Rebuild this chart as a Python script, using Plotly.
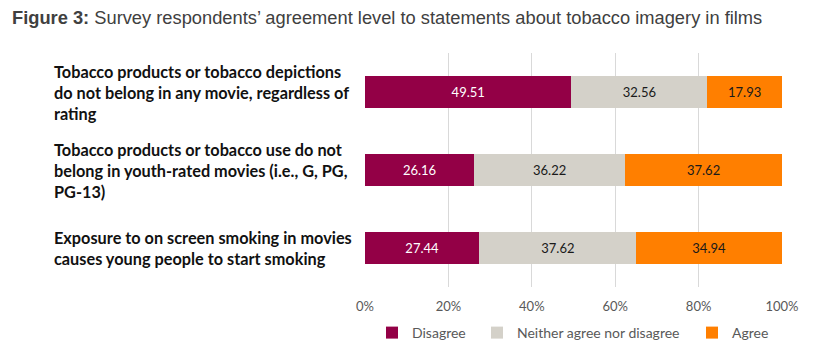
import plotly.graph_objects as go

categories = [
    "Tobacco products or tobacco depictions<br>do not belong in any movie, regardless of<br>rating",
    "Tobacco products or tobacco use do not<br>belong in youth-rated movies (i.e., G, PG,<br>PG-13)",
    "Exposure to on screen smoking in movies<br>causes young people to start smoking",
]
series_names = ["Disagree", "Neither agree nor disagree", "Agree"]
disagree = [49.51, 26.16, 27.44]
neither = [32.56, 36.22, 37.62]
agree = [17.93, 37.62, 34.94]
tick_vals = [0, 20, 40, 60, 80, 100]
tick_text = ["0%", "20%", "40%", "60%", "80%", "100%"]

colors = ["#930046", "#D4D1C9", "#FF7F00"]
text_colors = ["#FFFFFF", "#1a1a1a", "#1a1a1a"]
FONT = "Lato"

W, H = 822, 352
ml, mr, mt, mb = 365, 40, 53, 65
pw = W - ml - mr
ph = H - mt - mb

fig = go.Figure()
legend_ids = ["legend2", "legend3", "legend4"]
legend_text_x = [412, 517, 732]
for i, (name, vals) in enumerate(zip(series_names, [disagree, neither, agree])):
    fig.add_trace(go.Bar(
        y=categories, x=vals, name=name, orientation="h",
        marker=dict(color=colors[i], line=dict(width=0)),
        texttemplate="%{x:.2f}", textposition="inside", insidetextanchor="middle",
        textangle=0, constraintext="none",
        textfont=dict(family=FONT, size=13, color=text_colors[i]),
        legend=legend_ids[i], hoverinfo="skip", showlegend=True,
    ))

layout_legends = {"showlegend": True}
for i, lid in enumerate(legend_ids):
    layout_legends[lid] = dict(
        x=(legend_text_x[i] - 40) / W, xanchor="left", xref="container",
        y=(H - 333) / H, yanchor="middle", yref="container",
        orientation="h", bgcolor="rgba(0,0,0,0)",
        font=dict(family=FONT, size=14, color="#595959"),
        itemwidth=30, tracegroupgap=0, visible=True,
    )

annotations = []
for c in categories:
    annotations.append(dict(
        x=(52 - ml) / pw, xref="paper", xanchor="left",
        y=c, yref="y", yanchor="middle", align="left",
        text="<b>" + c + "</b>", showarrow=False,
        font=dict(family=FONT, size=16.3, color="#111111"),
    ))

fig.update_layout(
    width=W, height=H,
    margin=dict(l=ml, r=mr, t=mt, b=mb, pad=0, autoexpand=False),
    barmode="stack", bargap=0.58,
    plot_bgcolor="white", paper_bgcolor="white",
    title=dict(
        text="<b>Figure 3:</b> Survey respondents’ agreement level to statements about tobacco imagery in films",
        x=12 / W, xanchor="left", xref="container",
        y=1 - 18 / H, yanchor="middle", yref="container",
        font=dict(family="Liberation Sans, Arial", size=18.3, color="#404040"),
    ),
    xaxis=dict(
        range=[0, 100], tickvals=tick_vals, ticktext=tick_text,
        showgrid=True, gridcolor="#D9D9D9", gridwidth=1,
        zeroline=False, showline=False, ticks="",
        ticklabelstandoff=10,
        tickfont=dict(family=FONT, size=13, color="#595959"),
    ),
    yaxis=dict(
        autorange="reversed", showticklabels=False, showgrid=False,
        zeroline=False, showline=False, ticks="",
    ),
    annotations=annotations,
    **layout_legends,
)

fig.write_html("out.html")
